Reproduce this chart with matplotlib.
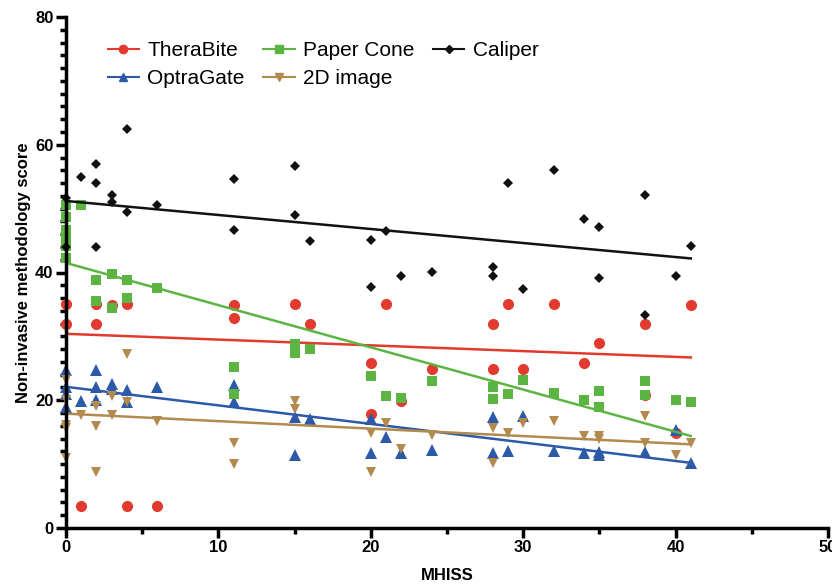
import numpy as np
import matplotlib
matplotlib.use("Agg")
import matplotlib.pyplot as plt
from matplotlib.ticker import MultipleLocator

plt.rcParams["font.family"] = ["Liberation Sans", "DejaVu Sans"]

# TheraBite
thera_x = [0, 0, 1, 2, 2, 3, 4, 4, 6, 11, 11, 15, 16, 20, 20, 21, 22, 24,
           28, 28, 29, 30, 32, 34, 35, 38, 38, 40, 41]
thera_y = [35, 32, 3.4, 35, 32, 34.9, 35, 3.4, 3.4, 34.9, 32.9, 35, 31.9, 25.9, 17.9, 35, 19.9, 24.9,
           31.9, 24.9, 35, 24.9, 35, 25.9, 28.9, 31.9, 20.9, 14.8, 34.9]
thera_fit = [30.4, 26.7]

# OptraGate
optra_x = [0, 0, 0, 0, 1, 2, 2, 2, 3, 3, 4, 4, 6, 11, 11, 15, 15, 16, 20, 20, 21, 22, 24,
           28, 28, 29, 30, 32, 34, 35, 35, 38, 40, 41]
optra_y = [24.7, 22, 21, 19, 19.9, 24.8, 22, 20.1, 22.5, 21.8, 21.6, 19.8, 22, 22.4, 19.8, 17.4, 11.5,
           17, 17, 11.7, 14.3, 11.7, 12.2, 17.3, 11.7, 12, 17.5, 12, 11.7, 11.9, 11.5, 11.9, 15.4, 10.1]
optra_fit = [22.1, 10.2]

# Paper Cone
paper_x = [0, 0, 0, 0, 0, 0, 0, 1, 2, 2, 3, 3, 4, 4, 6, 11, 11, 15, 15, 16, 20, 21, 22, 24,
           28, 28, 29, 30, 32, 34, 35, 35, 38, 38, 40, 41]
paper_y = [50.5, 48.7, 46.6, 45.9, 45.1, 44.2, 42.3, 50.5, 38.9, 35.5, 39.7, 34.4, 38.9, 36, 37.6,
           25.2, 21, 28.8, 27.4, 28, 23.8, 20.7, 20.4, 23, 22.1, 20.2, 21, 23.2, 21.1, 20, 21.5, 19,
           23, 20.9, 20.1, 19.7]
paper_fit = [41.5, 14.4]

# 2D image
image_x = [0, 0, 0, 0, 0, 1, 2, 2, 2, 3, 3, 4, 4, 6, 11, 11, 15, 15, 20, 20, 21, 22, 24,
           28, 28, 29, 30, 32, 34, 35, 35, 38, 38, 40, 41]
image_y = [23.2, 20, 16.1, 15.6, 10.9, 17.7, 19.1, 16, 8.8, 20.6, 17.7, 27.3, 19.8, 16.8, 13.3, 10,
           19.9, 18.6, 14.9, 8.8, 16.5, 12.3, 14.6, 15.6, 10.1, 14.9, 16.4, 16.7, 14.4, 14.4, 13.9,
           17.5, 13.3, 11.5, 13.3]
image_fit = [17.9, 13.1]

# Caliper
cal_x = [0, 0, 1, 2, 2, 2, 3, 3, 4, 4, 6, 11, 11, 15, 15, 16, 20, 20, 21, 22, 24,
         28, 28, 29, 30, 32, 34, 35, 35, 38, 38, 40, 41]
cal_y = [51.7, 44, 55, 57, 54, 44, 52.1, 51.1, 62.5, 49.5, 50.5, 54.7, 46.7, 56.6, 49, 45, 45.1, 37.8,
         46.5, 39.4, 40.1, 40.9, 39.4, 54, 37.4, 56, 48.4, 47.2, 39.2, 52.1, 33.4, 39.5, 44.2]
cal_fit = [51.2, 42.2]

fit_x = [0, 41]

series = [
    ("TheraBite", thera_x, thera_y, thera_fit, "#e23a2e", "o", 8),
    ("OptraGate", optra_x, optra_y, optra_fit, "#2c5aa8", "^", 8),
    ("Paper Cone", paper_x, paper_y, paper_fit, "#5cb443", "s", 7.5),
    ("2D image", image_x, image_y, image_fit, "#b38a4e", "v", 7),
    ("Caliper", cal_x, cal_y, cal_fit, "#111111", "D", 5.5),
]

fig = plt.figure(figsize=(8.32, 5.85), dpi=100)
ax = fig.add_axes([66 / 832, 57 / 585, 762 / 832, 511 / 585])

for name, xs, ys, fit, col, mk, ms in series:
    ax.plot(xs, ys, linestyle="none", marker=mk, markersize=ms, color=col,
            markeredgewidth=0, clip_on=False)
    ax.plot(fit_x, fit, color=col, linewidth=1.8)
    ax.plot([], [], color=col, marker=mk, markersize=ms * 0.75, linewidth=1.5, label=name)

ax.set_xlim(0, 50)
ax.set_ylim(0, 80)
ax.xaxis.set_major_locator(MultipleLocator(10))
ax.xaxis.set_minor_locator(MultipleLocator(5))
ax.yaxis.set_major_locator(MultipleLocator(20))
ax.yaxis.set_minor_locator(MultipleLocator(2))

for s in ["top", "right"]:
    ax.spines[s].set_visible(False)
for s in ["left", "bottom"]:
    ax.spines[s].set_linewidth(2.5)

ax.tick_params(which="major", direction="out", length=7, width=2.5, labelsize=12, pad=2)
ax.tick_params(which="minor", direction="out", length=4, width=2.5)
for lab in ax.get_xticklabels() + ax.get_yticklabels():
    lab.set_fontweight("bold")

ax.set_xlabel("MHISS", fontsize=12, fontweight="bold", labelpad=9)
ax.set_ylabel("Non-invasive methodology score", fontsize=12, fontweight="bold", labelpad=3)

handles, labels = ax.get_legend_handles_labels()
ax.legend(handles, labels, ncol=3, loc="upper left", bbox_to_anchor=(0.03, 0.99),
          frameon=False, fontsize=15, handlelength=1.5, columnspacing=0.9,
          labelspacing=0.45, handletextpad=0.4)

fig.savefig("out.png", dpi=100)
